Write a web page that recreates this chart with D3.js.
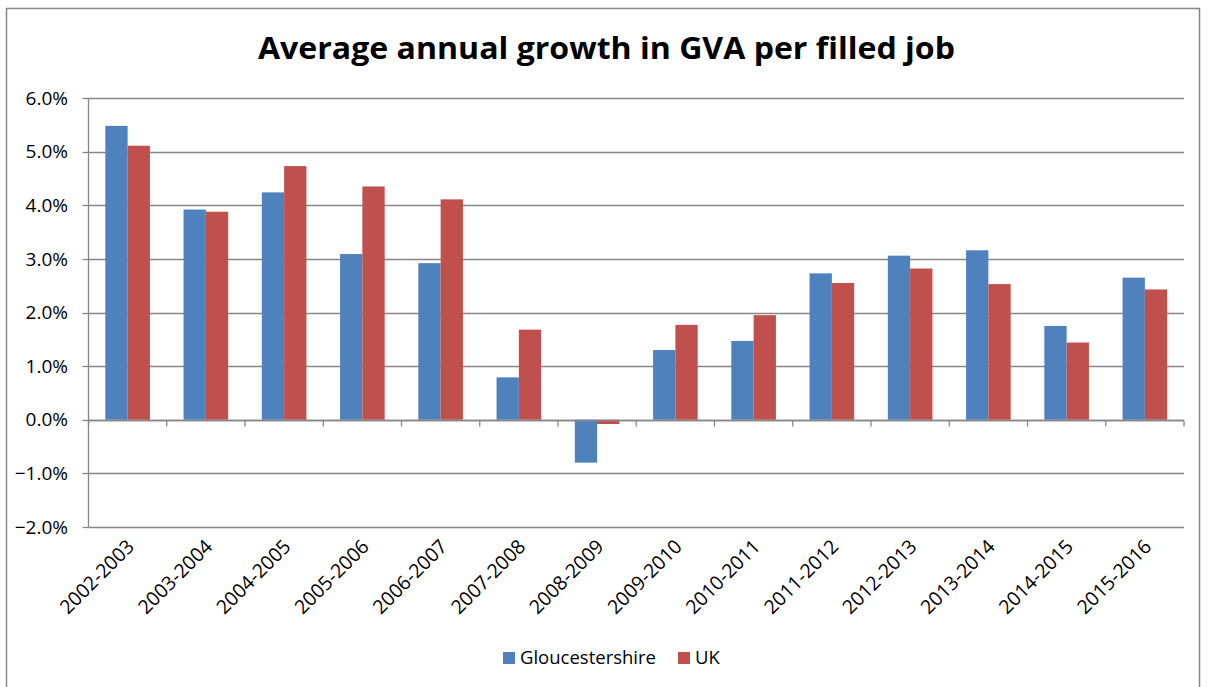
<!DOCTYPE html>
<html><head><meta charset="utf-8">
<script src="https://cdn.jsdelivr.net/npm/d3@7"></script>
<style>body{margin:0;background:#fff}svg{display:block}</style>
</head><body><svg id="c" width="1207" height="687"></svg>
<script>
const categories = ["2002-2003","2003-2004","2004-2005","2005-2006","2006-2007","2007-2008","2008-2009","2009-2010","2010-2011","2011-2012","2012-2013","2013-2014","2014-2015","2015-2016"];
const gloucestershire = [5.48, 3.92, 4.24, 3.09, 2.92, 0.79, -0.80, 1.30, 1.47, 2.73, 3.06, 3.16, 1.75, 2.65];
const uk = [5.11, 3.88, 4.73, 4.35, 4.11, 1.68, -0.08, 1.77, 1.95, 2.55, 2.82, 2.53, 1.44, 2.43];
const seriesNames = ["Gloucestershire", "UK"];
const yTicks = [-2, -1, 0, 1, 2, 3, 4, 5, 6];
const colors = ["#4F81BD", "#C0504D"];
const title = "Average annual growth in GVA per filled job";

const svg = d3.select("#c");
const font = "'Open Sans', sans-serif";
// outer border
svg.append("rect").attr("x",6.5).attr("y",8.5).attr("width",1193).attr("height",690)
  .attr("fill","none").attr("stroke","#878787").attr("stroke-width",1.5);

const L = 88.5, R = 1184, T = 98, B = 527;
const x = d3.scaleBand().domain(categories).range([L, R]).paddingInner(0.43).paddingOuter(0.215);
const xs = d3.scaleBand().domain([0,1]).range([0, x.bandwidth()]);
const y = d3.scaleLinear().domain([-2, 6]).range([B, T]);

// gridlines
svg.append("g").selectAll("line").data(yTicks).join("line")
  .attr("x1", L).attr("x2", R).attr("y1", d => Math.round(y(d))+0.5).attr("y2", d => Math.round(y(d))+0.5)
  .attr("stroke", "#868686").attr("stroke-width", 1.3);

// y axis line
svg.append("line").attr("x1", L).attr("x2", L).attr("y1", T).attr("y2", B).attr("stroke","#868686").attr("stroke-width",1.3);
// y tick marks
svg.append("g").selectAll("line").data(yTicks).join("line")
  .attr("x1", L-6).attr("x2", L).attr("y1", d => Math.round(y(d))+0.5).attr("y2", d => Math.round(y(d))+0.5)
  .attr("stroke","#868686").attr("stroke-width",1.3);
// y labels
svg.append("g").selectAll("text").data(yTicks).join("text")
  .attr("x", 68).attr("y", d => y(d)).attr("dy","0.35em").attr("text-anchor","end")
  .attr("font-family", font).attr("font-size", 19).attr("fill","#000")
  .text(d => d3.format(".1f")(d) + "%");

// bars
const g = svg.append("g");
[gloucestershire, uk].forEach((arr, s) => {
  g.selectAll(".s"+s).data(categories).join("rect")
    .attr("x", (c) => x(c) + xs(s))
    .attr("width", xs.bandwidth())
    .attr("y", (c,i) => y(Math.max(0, arr[i])))
    .attr("height", (c,i) => Math.abs(y(arr[i]) - y(0)))
    .attr("fill", colors[s]);
});

// zero axis line
const y0 = Math.round(y(0))+0.5;
svg.append("line").attr("x1", L).attr("x2", R).attr("y1", y0).attr("y2", y0).attr("stroke","#868686").attr("stroke-width",1.3);
// category tick marks
const step = x.step();
svg.append("g").selectAll("line").data(d3.range(categories.length+1)).join("line")
  .attr("x1", i => L + i*step).attr("x2", i => L + i*step).attr("y1", y0).attr("y2", y0+6)
  .attr("stroke","#868686").attr("stroke-width",1.3);

// x labels
svg.append("g").selectAll("text").data(categories).join("text")
  .attr("transform", c => `translate(${x(c)+x.bandwidth()/2+3},${B+16}) rotate(-45)`)
  .attr("text-anchor","end").attr("dy","0.35em")
  .attr("font-family", font).attr("font-size", 19.5).attr("fill","#000")
  .text(c => c);

// title
svg.append("text").attr("x", 606.5).attr("y", 59).attr("text-anchor","middle")
  .attr("font-family", font).attr("font-weight","bold").attr("font-size", 31).attr("fill","#000")
  .attr("textLength", 697).attr("lengthAdjust","spacingAndGlyphs")
  .text(title);

// legend
const leg = svg.append("g");
const legItems = [{n:seriesNames[0], x:503, c:colors[0]}, {n:seriesNames[1], x:678, c:colors[1]}];
legItems.forEach(d => {
  leg.append("rect").attr("x", d.x).attr("y", 652).attr("width", 12).attr("height", 12).attr("fill", d.c);
  leg.append("text").attr("x", d.x+17).attr("y", 658).attr("dy","0.35em")
    .attr("font-family", font).attr("font-size", 18.5).attr("fill","#000").text(d.n);
});
</script></body></html>
